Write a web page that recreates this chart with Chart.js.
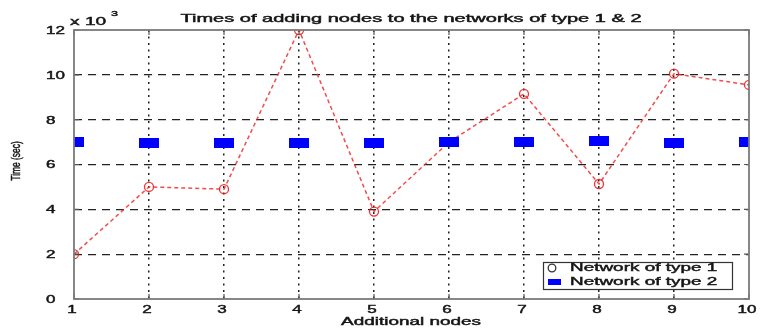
<!DOCTYPE html>
<html>
<head>
<meta charset="utf-8">
<script src="https://cdn.jsdelivr.net/npm/chart.js@4.4.0/dist/chart.umd.min.js"></script>
<style>
  html, body { margin: 0; padding: 0; background: #fff; }
  #wrap { width: 760px; height: 329px; }
</style>
</head>
<body>
<div id="wrap"><canvas id="c" width="760" height="329"></canvas></div>
<script>
// Additional nodes (x) and times in seconds for each network type
const addedNodes = [1, 2, 3, 4, 5, 6, 7, 8, 9, 10];
const timesType1 = [2000, 5000, 4900, 12000, 3900, 7000, 9150, 5130, 10050, 9550];
const timesType2 = [6990, 6970, 6980, 6980, 6960, 7020, 7020, 7030, 6950, 7020];
const yTicks = [0, 2000, 4000, 6000, 8000, 10000, 12000];
const seriesNames = ['Network of type 1', 'Network of type 2'];
const titleText = 'Times of adding nodes to the networks of type 1 & 2';
const xTitle = 'Additional nodes';
const yTitle = 'Time (sec)';

const FONT = '"Liberation Sans", Arial, sans-serif';
const TEXT = '#151515';

// wide blue block used as the marker for type 2
function blockMarker(w, h, color) {
  const cv = document.createElement('canvas');
  cv.width = w; cv.height = h;
  const g = cv.getContext('2d');
  g.fillStyle = color;
  g.fillRect(0, 0, w, h);
  return cv;
}
const blueBlock = blockMarker(20, 10, '#0000ff');

const toPoints = arr => addedNodes.map((x, i) => ({ x: x, y: arr[i] }));

// text drawn with a wide horizontal stretch and a slightly heavy stroke
function wideText(ctx, str, x, y, align, size, sx, sy, rot) {
  ctx.save();
  ctx.font = size + 'px ' + FONT;
  ctx.textAlign = align;
  ctx.textBaseline = 'middle';
  ctx.translate(x, y);
  if (rot) ctx.rotate(rot);
  ctx.scale(sx, sy);
  ctx.fillStyle = TEXT;
  ctx.strokeStyle = TEXT;
  ctx.lineWidth = 0.45;
  ctx.fillText(str, 0, 0);
  ctx.strokeText(str, 0, 0);
  ctx.restore();
}

// frame, tick labels, title, multiplier, axis titles and the boxed legend
const decorations = {
  id: 'decorations',
  afterDraw(chart) {
    const { ctx, chartArea: a } = chart;
    const xs = chart.scales.x, ys = chart.scales.y;
    ctx.save();

    // short inward tick marks on all four sides
    ctx.strokeStyle = '#555';
    ctx.lineWidth = 1.2;
    ctx.beginPath();
    addedNodes.forEach(v => {
      const px = xs.getPixelForValue(v);
      ctx.moveTo(px, a.top); ctx.lineTo(px, a.top + 5);
      ctx.moveTo(px, a.bottom); ctx.lineTo(px, a.bottom - 5);
    });
    yTicks.forEach(v => {
      const py = ys.getPixelForValue(v);
      ctx.moveTo(a.left, py); ctx.lineTo(a.left + 5, py);
      ctx.moveTo(a.right, py); ctx.lineTo(a.right - 5, py);
    });
    ctx.stroke();

    ctx.strokeStyle = '#7a7a7a';
    ctx.lineWidth = 1.8;
    ctx.strokeRect(a.left, a.top, a.right - a.left, a.bottom - a.top);

    // tick labels
    yTicks.forEach(v => {
      wideText(ctx, String(v / 1000), 46, ys.getPixelForValue(v) + 1, 'left', 11, 1.55, 0.95);
    });
    addedNodes.forEach(v => {
      wideText(ctx, String(v), xs.getPixelForValue(v) - 2, 310, 'center', 11, 1.55, 0.95);
    });

    wideText(ctx, titleText, 411, 19, 'center', 11, 1.82, 0.95);
    wideText(ctx, xTitle, 411, 322, 'center', 11, 1.72, 0.95);

    // exponent note at top of the y axis
    wideText(ctx, 'x 10', 70, 22, 'left', 12, 1.6, 0.9);
    wideText(ctx, '3', 111, 14, 'left', 9, 1.4, 0.9);

    // vertical axis title
    wideText(ctx, yTitle, 16, 161, 'center', 12, 0.7, 1.1, -Math.PI / 2);

    // legend box
    const bx = 543, by = 262, bw = 189, bh = 27;
    ctx.fillStyle = '#fff';
    ctx.fillRect(bx, by, bw, bh);
    ctx.strokeStyle = '#333';
    ctx.lineWidth = 1.2;
    ctx.strokeRect(bx + 0.5, by + 0.5, bw, bh);

    ctx.strokeStyle = '#333';
    ctx.lineWidth = 1.3;
    ctx.beginPath();
    ctx.arc(552, 268, 3.8, 0, Math.PI * 2);
    ctx.stroke();
    ctx.fillStyle = '#0000ff';
    ctx.fillRect(548, 279, 13, 6);

    wideText(ctx, seriesNames[0], 570, 268, 'left', 11, 1.72, 0.95);
    wideText(ctx, seriesNames[1], 570, 282, 'left', 11, 1.72, 0.95);
    ctx.restore();
  }
};

const edgeHidden = ctx => {
  const s = ctx.scale;
  return (ctx.tick && (ctx.tick.value === s.min || ctx.tick.value === s.max)) ? 'rgba(0,0,0,0)' : '#222';
};

new Chart(document.getElementById('c'), {
  type: 'line',
  data: {
    datasets: [
      {
        label: seriesNames[0],
        data: toPoints(timesType1),
        borderColor: 'rgba(240,45,45,0.85)',
        borderWidth: 1.5,
        borderDash: [4, 3],
        pointStyle: 'circle',
        pointRadius: 4.5,
        pointBorderColor: 'rgba(235,30,30,0.9)',
        pointBackgroundColor: 'rgba(255,255,255,0)',
        pointBorderWidth: 1.3,
        tension: 0,
        order: 2
      },
      {
        label: seriesNames[1],
        data: toPoints(timesType2),
        showLine: false,
        pointStyle: blueBlock,
        pointRadius: 10,
        order: 1
      }
    ]
  },
  options: {
    responsive: false,
    animation: false,
    events: [],
    layout: { padding: { top: 30, right: 5, left: 0, bottom: 0 } },
    plugins: {
      legend: { display: false },
      title: { display: false },
      tooltip: { enabled: false }
    },
    scales: {
      x: {
        type: 'linear',
        min: 1,
        max: 10,
        afterFit: s => { s.height = 30; s.paddingLeft = 0; s.paddingRight = 0; },
        ticks: { stepSize: 1, display: false },
        grid: { color: edgeHidden, lineWidth: 1.5, drawTicks: false },
        border: { display: false, dash: [2, 4.5] }
      },
      y: {
        min: 0,
        max: 12000,
        afterFit: s => { s.width = 74; },
        afterBuildTicks: s => { s.ticks = yTicks.map(v => ({ value: v })); },
        ticks: { display: false },
        grid: { color: edgeHidden, lineWidth: 1.2, drawTicks: false },
        border: { display: false, dash: [8, 6] }
      }
    }
  },
  plugins: [decorations]
});
</script>
</body>
</html>
